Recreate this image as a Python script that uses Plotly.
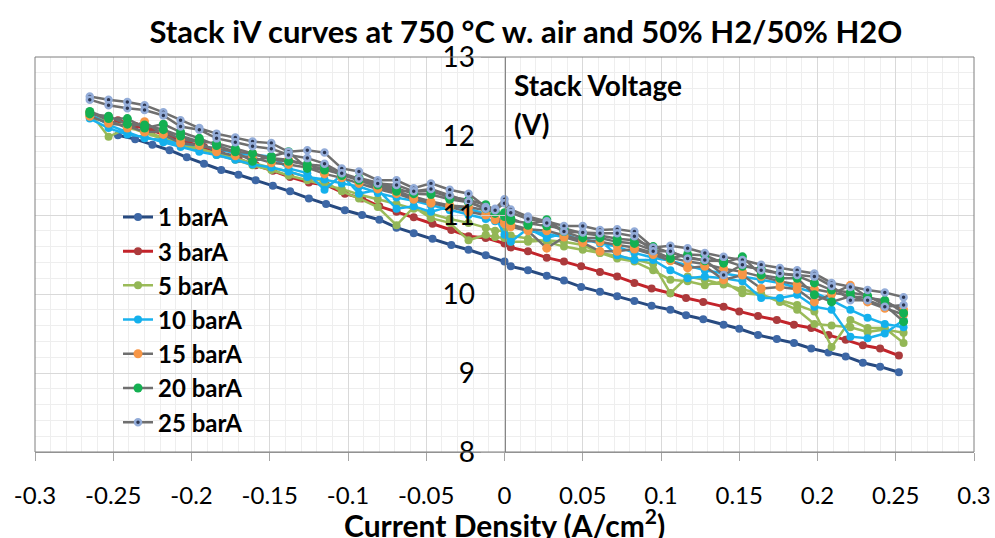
import plotly.graph_objects as go

# ---------------- data ----------------
X_LOW = [-0.247, -0.236, -0.225, -0.214, -0.203, -0.192, -0.181, -0.170, -0.159, -0.148,
         -0.137, -0.125, -0.114, -0.102, -0.091, -0.080, -0.069, -0.058, -0.046, -0.034,
         -0.023, -0.012, 0.0, 0.004, 0.015, 0.027, 0.038, 0.049, 0.061, 0.072,
         0.083, 0.094, 0.106, 0.116, 0.127, 0.140, 0.150, 0.162, 0.174, 0.185,
         0.196, 0.207, 0.218, 0.229, 0.240, 0.252]

V_1BAR = [12.01, 11.96, 11.89, 11.82, 11.73, 11.65, 11.57, 11.51, 11.44, 11.37,
          11.30, 11.21, 11.14, 11.06, 11.00, 10.94, 10.84, 10.77, 10.70, 10.62,
          10.56, 10.49, 10.41, 10.35, 10.30, 10.23, 10.17, 10.09, 10.03, 9.97,
          9.91, 9.85, 9.80, 9.73, 9.68, 9.61, 9.56, 9.48, 9.43, 9.38,
          9.31, 9.26, 9.21, 9.13, 9.08, 9.01]

V_3BAR = [12.20, 12.13, 12.07, 12.00, 11.93, 11.86, 11.78, 11.71, 11.63, 11.56,
          11.48, 11.41, 11.38, 11.27, 11.21, 11.11, 11.04, 10.97, 10.89, 10.81,
          10.73, 10.71, 10.64, 10.59, 10.54, 10.46, 10.41, 10.35, 10.28, 10.22,
          10.14, 10.07, 10.01, 9.95, 9.90, 9.84, 9.78, 9.72, 9.67, 9.61,
          9.57, 9.48, 9.42, 9.35, 9.31, 9.22]

X_HIGH = [-0.265, -0.253, -0.241, -0.230, -0.218, -0.207, -0.195, -0.184, -0.172, -0.161,
          -0.149, -0.138, -0.126, -0.115, -0.104, -0.093, -0.081, -0.069, -0.058, -0.047,
          -0.035, -0.023, -0.012, -0.006, 0.0, 0.004, 0.015, 0.027, 0.038, 0.050,
          0.061, 0.072, 0.083, 0.095, 0.106, 0.117, 0.128, 0.140, 0.152, 0.164,
          0.176, 0.187, 0.198, 0.209, 0.221, 0.232, 0.243, 0.255]

# two sweeps (out and back) per pressure
V_5BAR_A = [12.30, 11.99, 12.10, 12.06, 11.98, 11.90, 11.84, 11.78, 11.72, 11.66,
            11.60, 11.55, 11.48, 11.42, 11.30, 11.21, 11.10, 10.87, 11.10, 10.96,
            10.90, 10.68, 10.75, 10.72, 10.71, 10.66, 10.66, 10.68, 10.66, 10.62,
            10.52, 10.45, 10.41, 10.30, 10.18, 10.16, 10.11, 10.16, 10.01, 9.99,
            9.92, 9.86, 9.78, 9.33, 9.67, 9.57, 9.57, 9.38]
V_5BAR_B = [12.25, 12.18, 12.12, 12.04, 11.96, 11.89, 11.82, 11.76, 11.70, 11.63,
            11.57, 11.50, 11.44, 11.38, 11.33, 11.26, 11.20, 11.14, 11.08, 11.02,
            10.95, 10.90, 10.84, 10.80, 10.80, 10.74, 10.70, 10.66, 10.60, 10.56,
            10.52, 10.48, 10.44, 10.38, 10.01, 10.22, 10.18, 10.12, 10.06, 10.00,
            9.90, 9.80, 9.62, 9.60, 9.58, 9.52, 9.55, 9.51]

V_10BAR_A = [12.28, 12.14, 12.05, 11.97, 11.95, 11.90, 11.88, 11.84, 11.78, 11.76,
             11.74, 11.59, 11.53, 11.32, 11.51, 11.27, 11.32, 11.08, 11.11, 11.04,
             11.11, 11.08, 11.02, 10.98, 10.75, 10.66, 10.83, 10.71, 10.77, 10.66,
             10.68, 10.49, 10.43, 10.43, 10.30, 10.20, 10.22, 10.20, 10.16, 9.95,
             9.95, 9.99, 9.84, 9.80, 9.46, 9.44, 9.50, 9.67]
V_10BAR_B = [12.22, 12.10, 12.02, 11.99, 11.92, 11.86, 11.80, 11.76, 11.70, 11.64,
             11.60, 11.55, 11.48, 11.45, 11.40, 11.36, 11.28, 11.22, 11.18, 11.12,
             11.06, 11.00, 10.95, 10.92, 10.90, 10.86, 10.80, 10.76, 10.72, 10.70,
             10.64, 10.60, 10.52, 10.46, 10.42, 10.36, 10.30, 10.26, 10.22, 10.18,
             10.14, 10.08, 10.02, 9.92, 9.80, 9.70, 9.62, 9.58]

V_15BAR_A = [12.30, 12.20, 12.10, 12.18, 12.02, 11.91, 11.88, 11.84, 11.80, 11.78,
             11.72, 11.70, 11.63, 11.58, 11.51, 11.44, 11.36, 11.30, 11.23, 11.17,
             11.12, 11.10, 11.06, 10.94, 10.89, 10.85, 10.80, 10.58, 10.72, 10.65,
             10.54, 10.54, 10.57, 10.50, 10.42, 10.33, 10.35, 10.18, 10.24, 10.07,
             10.09, 10.06, 9.90, 10.00, 10.11, 9.96, 9.90, 9.80]
V_15BAR_B = [12.25, 12.16, 12.13, 12.05, 12.06, 11.96, 11.92, 11.80, 11.75, 11.73,
             11.66, 11.64, 11.60, 11.52, 11.47, 11.40, 11.33, 11.27, 11.20, 11.15,
             11.10, 11.04, 11.00, 10.97, 10.92, 10.88, 10.82, 10.80, 10.74, 10.68,
             10.66, 10.62, 10.59, 10.52, 10.46, 10.41, 10.38, 10.32, 10.28, 10.22,
             10.16, 10.12, 10.06, 10.02, 9.98, 9.90, 9.82, 9.74]

V_20BAR_A = [12.31, 12.22, 12.22, 12.10, 12.15, 12.05, 11.97, 11.88, 11.80, 11.68,
             11.74, 11.80, 11.59, 11.57, 11.53, 11.44, 11.38, 11.30, 11.30, 11.30,
             11.23, 11.19, 11.13, 11.05, 10.98, 10.96, 10.87, 10.94, 10.79, 10.71,
             10.71, 10.66, 10.64, 10.55, 10.45, 10.50, 10.49, 10.39, 10.47, 10.24,
             10.20, 10.20, 9.99, 9.90, 9.97, 9.95, 9.92, 9.76]
V_20BAR_B = [12.28, 12.25, 12.15, 12.14, 12.08, 12.00, 11.93, 11.91, 11.84, 11.78,
             11.70, 11.68, 11.64, 11.62, 11.50, 11.47, 11.41, 11.34, 11.27, 11.26,
             11.20, 11.16, 11.08, 11.02, 11.03, 10.93, 10.90, 10.86, 10.83, 10.77,
             10.74, 10.70, 10.68, 10.60, 10.52, 10.47, 10.42, 10.43, 10.35, 10.32,
             10.26, 10.23, 10.14, 10.05, 10.02, 9.98, 9.86, 9.65]

V_25BAR_A = [12.50, 12.46, 12.43, 12.39, 12.30, 12.20, 12.10, 12.03, 11.98, 11.93,
             11.91, 11.80, 11.82, 11.79, 11.59, 11.55, 11.44, 11.44, 11.34, 11.40,
             11.32, 11.27, 11.10, 11.08, 11.20, 11.07, 10.98, 10.92, 10.86, 10.86,
             10.81, 10.82, 10.79, 10.59, 10.61, 10.58, 10.52, 10.47, 10.43, 10.37,
             10.33, 10.30, 10.26, 10.14, 10.09, 10.05, 10.02, 9.96]
V_25BAR_B = [12.46, 12.39, 12.35, 12.33, 12.26, 12.12, 12.08, 11.97, 11.92, 11.87,
             11.84, 11.76, 11.72, 11.65, 11.53, 11.46, 11.40, 11.38, 11.30, 11.33,
             11.25, 11.17, 11.08, 11.06, 11.15, 11.03, 10.95, 10.90, 10.79, 10.78,
             10.77, 10.77, 10.73, 10.54, 10.54, 10.45, 10.43, 10.24, 10.37, 10.30,
             10.26, 10.24, 10.22, 10.10, 9.92, 9.92, 9.84, 9.86]

X_TICKS = [-0.3, -0.25, -0.2, -0.15, -0.1, -0.05, 0, 0.05, 0.1, 0.15, 0.2, 0.25, 0.3]
X_TICK_LABELS = ["-0.3", "-0.25", "-0.2", "-0.15", "-0.1", "-0.05", "0",
                 "0.05", "0.1", "0.15", "0.2", "0.25", "0.3"]
Y_TICKS = [8, 9, 10, 11, 12, 13]
Y_TICK_LABELS = ["8", "9", "10", "11", "12", "13"]

TITLE = "Stack iV curves at 750 °C w. air and 50% H2/50% H2O"

FONT = "Lato"

fig = go.Figure()


def loop(a, b):
    return X_HIGH + X_HIGH[::-1], a + b[::-1]


fig.add_trace(go.Scatter(x=X_LOW, y=V_1BAR, name="<b>1 barA</b>", mode="lines+markers",
                         line=dict(color="#274a80", width=3),
                         marker=dict(color="#3d67a5", size=8)))
fig.add_trace(go.Scatter(x=X_LOW, y=V_3BAR, name="<b>3 barA</b>", mode="lines+markers",
                         line=dict(color="#c3232a", width=3),
                         marker=dict(color="#ab3a3c", size=8)))
xs, ys = loop(V_5BAR_A, V_5BAR_B)
fig.add_trace(go.Scatter(x=xs, y=ys, name="<b>5 barA</b>", mode="lines+markers",
                         line=dict(color="#9bbb59", width=2.5),
                         marker=dict(color="#93b756", size=8)))
xs, ys = loop(V_10BAR_A, V_10BAR_B)
fig.add_trace(go.Scatter(x=xs, y=ys, name="<b>10 barA</b>", mode="lines+markers",
                         line=dict(color="#1ab2ee", width=2.5),
                         marker=dict(color="#14b0ec", size=8)))
xs, ys = loop(V_15BAR_A, V_15BAR_B)
fig.add_trace(go.Scatter(x=xs, y=ys, name="<b>15 barA</b>", mode="lines+markers",
                         line=dict(color="#6f6f6f", width=2.5),
                         marker=dict(color="#f79646", size=9)))
xs, ys = loop(V_20BAR_A, V_20BAR_B)
fig.add_trace(go.Scatter(x=xs, y=ys, name="<b>20 barA</b>", mode="lines+markers",
                         line=dict(color="#6f6f6f", width=2.5),
                         marker=dict(color="#14b052", size=9)))
xs, ys = loop(V_25BAR_A, V_25BAR_B)
fig.add_trace(go.Scatter(x=xs, y=ys, name="<b>25 barA</b>", mode="lines+markers",
                         line=dict(color="#6f6f6f", width=2.5),
                         marker=dict(color="#2b3550", size=6,
                                     line=dict(color="#93acd8", width=2.5))))

fig.update_layout(
    width=995, height=538,
    margin=dict(l=35, r=21, t=57, b=86, autoexpand=False),
    paper_bgcolor="white", plot_bgcolor="white",
    font=dict(family=FONT, color="#000000"),
    title=dict(text="<b>" + TITLE + "</b>", x=0.5286, xanchor="center",
               y=0.9405, yanchor="middle", font=dict(size=31, family=FONT)),
    showlegend=True,
    legend=dict(x=0.0884, xanchor="left", y=0.651, yanchor="top",
                bgcolor="rgba(0,0,0,0)", font=dict(size=24, family=FONT),
                tracegroupgap=0, itemsizing="trace"),
)

fig.update_xaxes(
    range=[-0.3, 0.3], domain=[0, 1], automargin=False,
    tickvals=X_TICKS, ticktext=X_TICK_LABELS,
    tickfont=dict(size=24), ticks="outside", ticklen=8, tickcolor="#a6a6a6",
    ticklabelstandoff=14,
    showline=True, linecolor="#a6a6a6", linewidth=1,
    showgrid=True, gridcolor="#d9d9d9", gridwidth=1,
    minor=dict(dtick=0.01, showgrid=True, gridcolor="#eeeeee", gridwidth=1),
    zeroline=False,
)
# long ticks in the gridline colour push the labels clear of the centred axis
fig.update_yaxes(
    range=[8, 13], domain=[0, 1], automargin=False,
    tickvals=Y_TICKS, ticktext=Y_TICK_LABELS,
    tickfont=dict(size=28),
    anchor="free", position=0.5, side="left",
    ticks="outside", ticklen=24, tickcolor="#cfcfcf",
    showline=True, linecolor="#868686", linewidth=1,
    showgrid=True, gridcolor="#d9d9d9", gridwidth=1,
    minor=dict(dtick=0.2, showgrid=True, gridcolor="#eeeeee", gridwidth=1),
    zeroline=False,
)

# plot-area border
fig.add_shape(type="rect", xref="paper", yref="paper", x0=0, y0=0, x1=1, y1=1,
              line=dict(color="#7f7f7f", width=1), layer="above")

# axis titles
fig.add_annotation(text="<b>Stack Voltage</b>", xref="paper", yref="paper",
                   x=0.508, y=0.929, xanchor="left", yanchor="middle",
                   showarrow=False, font=dict(size=28, family=FONT))
fig.add_annotation(text="<b>(V)</b>", xref="paper", yref="paper",
                   x=0.508, y=0.83, xanchor="left", yanchor="middle",
                   showarrow=False, font=dict(size=28, family=FONT))
fig.add_annotation(text="<b>Current Density (A/cm<sup>2</sup>)</b>", xref="paper", yref="paper",
                   x=0.5, y=-0.18, xanchor="center", yanchor="middle",
                   showarrow=False, font=dict(size=30, family=FONT))

fig.write_html("out.html", config={"displayModeBar": False},
               post_script="document.body.style.margin='0px';")
